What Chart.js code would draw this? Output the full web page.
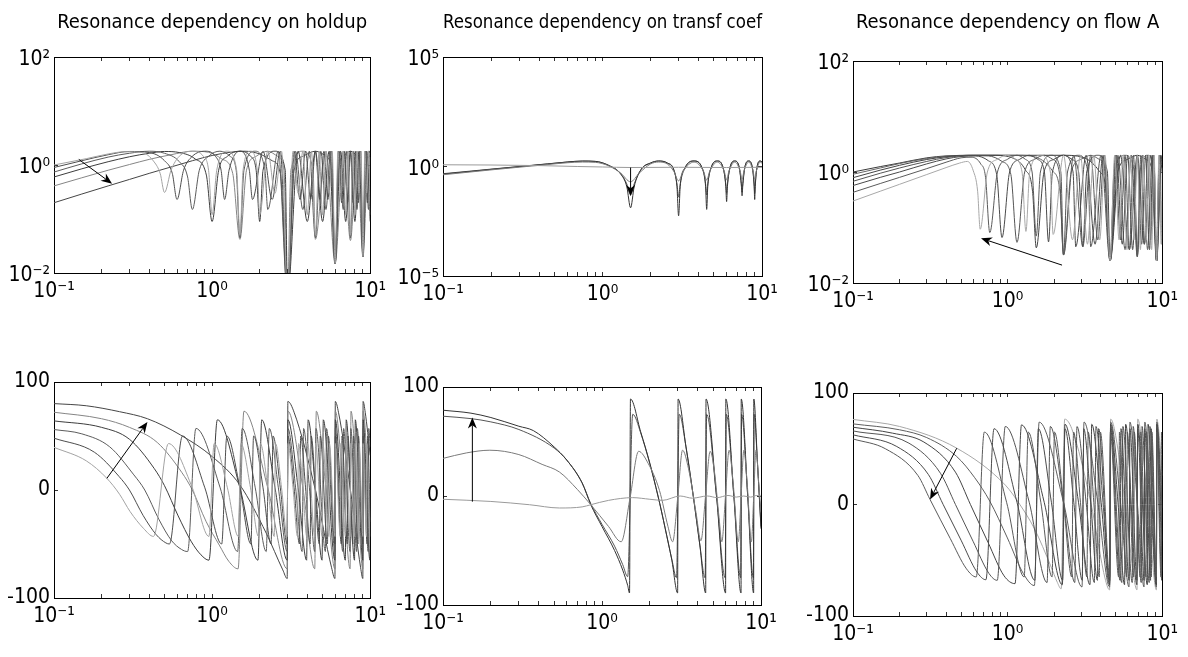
<!DOCTYPE html>
<html>
<head>
<meta charset="utf-8">
<script src="https://cdn.jsdelivr.net/npm/chart.js@4/dist/chart.umd.min.js"></script>
<style>
  html, body { margin: 0; padding: 0; background: #fff; }
  body { position: relative; width: 1188px; height: 657px; overflow: hidden; }
  .panel { position: absolute; }
</style>
</head>
<body>
<script>
// ---- tick values / labels ----
const xTickValues = [0.1, 0.2, 0.3, 0.4, 0.5, 0.6, 0.7, 0.8, 0.9, 1, 2, 3, 4, 5, 6, 7, 8, 9, 10];
const xLabelValues = [0.1, 1, 10];
const xLabelTexts = ['10\u207B\u00B9', '10\u2070', '10\u00B9'];
const magTickValues = [0.01, 1, 100];
const magTickLabels = ['10\u207B\u00B2', '10\u2070', '10\u00B2'];
const coefTickValues = [1e-5, 1, 1e5];
const coefTickLabels = ['10\u207B\u2075', '10\u2070', '10\u2075'];
const phaseTickValues = [-100, 0, 100];
const phaseTickLabels = ['\u2013100', '0', '100'];
const panelTitles = ['Resonance dependency on holdup', 'Resonance dependency on transf coef', 'Resonance dependency on flow A'];

// ---- holdup, magnitude (one curve per notch spacing) ----
const holdupMag05 = [[0.1,1.0],[0.16,1.31],[0.22,1.6],[0.28,1.76],[0.36,1.7],[0.43,1.14],[0.47,0.69],[0.5,0.31],
  [0.55,0.8],[0.62,1.45],[0.75,1.8],[0.88,1.45],[0.95,0.8],[1.0,0.12],[1.07,0.8],[1.25,1.8],[1.43,0.8],[1.5,0.05],
  [1.57,0.8],[1.75,1.8],[1.93,0.8],[2.0,0.12],[2.25,1.8],[2.5,0.3],[2.75,1.8],[3.0,0.004],[3.25,1.8],[3.5,0.3],
  [3.75,1.8],[4.0,0.12],[4.25,1.8],[4.5,0.05],[4.75,1.8],[5.0,0.12],[5.25,1.8],[5.5,0.3],[5.75,1.8],[6.0,0.015],
  [6.25,1.8],[6.5,0.3],[6.75,1.8],[7.0,0.12],[7.25,1.8],[7.5,0.05],[7.75,1.8],[8.0,0.12],[8.25,1.8],[8.5,0.3],
  [8.75,1.8],[9.0,0.02],[9.25,1.8],[9.5,0.3],[9.75,1.8],[10,0.12]];
const holdupMag06 = [[0.1,0.9],[0.15,1.2],[0.22,1.55],[0.3,1.78],[0.4,1.7],[0.5,1.2],[0.56,0.7],[0.6,0.23],
  [0.66,0.8],[0.75,1.45],[0.9,1.8],[1.05,1.45],[1.14,0.8],[1.2,0.23],[1.28,0.8],[1.5,1.8],[1.72,0.8],[1.8,0.23],
  [2.1,1.8],[2.4,0.23],[2.7,1.8],[3.0,0.004],[3.3,1.8],[3.6,0.23],[3.9,1.8],[4.2,0.23],[4.5,1.8],[4.8,0.23],
  [5.1,1.8],[5.4,0.23],[5.7,1.8],[6.0,0.015],[6.3,1.8],[6.6,0.2],[6.9,1.8],[7.2,0.2],[7.5,1.8],[7.8,0.2],
  [8.1,1.8],[8.4,0.2],[8.7,1.8],[9.0,0.02],[9.3,1.8],[9.6,0.2],[9.9,1.8],[10,1.75]];
const holdupMag075 = [[0.1,0.74],[0.15,1.05],[0.22,1.4],[0.3,1.65],[0.4,1.8],[0.5,1.65],[0.62,1.15],[0.7,0.6],[0.75,0.15],
  [0.83,0.8],[0.95,1.45],[1.12,1.8],[1.3,1.45],[1.42,0.8],[1.5,0.045],[1.59,0.8],[1.87,1.8],[2.16,0.8],[2.25,0.15],
  [2.62,1.8],[3.0,0.004],[3.37,1.8],[3.75,0.15],[4.12,1.8],[4.5,0.045],[4.87,1.8],[5.25,0.15],[5.62,1.8],[6.0,0.015],
  [6.37,1.8],[6.75,0.15],[7.12,1.8],[7.5,0.045],[7.87,1.8],[8.25,0.15],[8.62,1.8],[9.0,0.02],[9.37,1.8],[9.75,0.15],[10,1.4]];
const holdupMag10 = [[0.1,0.6],[0.15,0.85],[0.22,1.15],[0.3,1.42],[0.4,1.65],[0.5,1.78],[0.62,1.7],[0.78,1.3],[0.92,0.65],[1.0,0.09],
  [1.1,0.8],[1.25,1.45],[1.5,1.8],[1.75,1.45],[1.9,0.8],[2.0,0.09],[2.1,0.8],[2.5,1.8],[2.9,0.8],[3.0,0.004],
  [3.5,1.8],[4.0,0.09],[4.5,1.8],[5.0,0.09],[5.5,1.8],[6.0,0.015],[6.5,1.8],[7.0,0.09],[7.5,1.8],[8.0,0.09],
  [8.5,1.8],[9.0,0.02],[9.5,1.8],[10,0.09]];
const holdupMag15 = [[0.1,0.41],[0.15,0.58],[0.22,0.8],[0.3,1.02],[0.4,1.27],[0.55,1.55],[0.75,1.8],[0.95,1.72],[1.15,1.3],[1.35,0.7],[1.5,0.042],
  [1.65,0.8],[1.9,1.45],[2.25,1.8],[2.6,1.45],[2.85,0.8],[3.0,0.004],[3.15,0.8],[3.75,1.8],[4.35,0.8],[4.5,0.042],
  [5.25,1.8],[6.0,0.015],[6.75,1.8],[7.5,0.04],[8.25,1.8],[9.0,0.02],[9.75,1.8],[10,1.7]];
const holdupMag30 = [[0.1,0.2],[0.15,0.29],[0.22,0.41],[0.3,0.54],[0.4,0.7],[0.55,0.92],[0.75,1.2],[1.0,1.5],[1.3,1.72],[1.6,1.8],
  [2.0,1.6],[2.4,1.2],[2.7,0.7],[3.0,0.004],[3.3,0.8],[3.75,1.45],[4.5,1.8],[5.25,1.45],[5.7,0.8],[6.0,0.015],
  [6.3,0.8],[6.75,1.45],[7.5,1.8],[8.25,1.45],[8.7,0.8],[9.0,0.02],[9.3,0.8],[10,1.5]];

// ---- transfer coefficient, magnitude ----
const coefMagFlat = [[0.1,1.2],[0.2,1.17],[0.4,1.1],[0.7,1.0],[1.0,0.95],[1.5,0.9],[3,0.92],[6,0.9],[10,0.92]];
const coefMagHump = [[0.1,0.42],[0.2,0.7],[0.3,0.93],[0.45,1.22],[0.6,1.48],[0.75,1.6],[0.9,1.55],[1.1,1.05],[1.3,0.5],[1.5,0.2],
  [1.7,0.5],[2.0,1.3],[2.25,1.6],[2.55,1.3],[2.8,0.6],[3.0,0.22],[3.2,0.6],[3.75,1.6],[4.3,0.6],[4.5,0.24],[4.7,0.6],
  [5.25,1.6],[5.8,0.6],[6.0,0.25],[6.2,0.6],[6.75,1.6],[7.3,0.6],[7.5,0.26],[7.7,0.6],[8.25,1.6],[8.8,0.6],[9.0,0.26],
  [9.2,0.6],[9.75,1.6],[10,1.4]];
const coefMagDeepA = [[0.1,0.45],[0.15,0.6],[0.2,0.74],[0.3,0.98],[0.45,1.3],[0.6,1.6],[0.75,1.78],[0.9,1.72],[1.1,1.1],[1.3,0.45],
  [1.42,0.12],[1.5,0.013],[1.58,0.12],[1.75,0.75],[2.0,1.45],[2.25,1.8],[2.55,1.45],[2.8,0.7],[2.93,0.12],[3.0,0.0056],
  [3.07,0.12],[3.3,0.9],[3.75,1.8],[4.2,0.9],[4.43,0.12],[4.5,0.011],[4.57,0.12],[4.8,0.9],[5.25,1.8],[5.7,0.9],
  [5.93,0.12],[6.0,0.025],[6.07,0.12],[6.3,0.9],[6.75,1.8],[7.2,0.9],[7.43,0.12],[7.5,0.046],[7.57,0.12],[7.8,0.9],
  [8.25,1.8],[8.7,0.9],[8.93,0.12],[9.0,0.031],[9.07,0.12],[9.3,0.9],[9.75,1.8],[10,1.6]];
const coefMagDeepB = [[0.1,0.47],[0.15,0.62],[0.2,0.76],[0.3,1.0],[0.45,1.32],[0.6,1.6],[0.75,1.76],[0.9,1.7],[1.1,1.1],[1.3,0.48],
  [1.42,0.16],[1.5,0.05],[1.58,0.16],[1.75,0.75],[2.0,1.42],[2.25,1.76],[2.55,1.42],[2.8,0.7],[2.93,0.16],[3.0,0.04],
  [3.07,0.16],[3.3,0.9],[3.75,1.76],[4.2,0.9],[4.43,0.16],[4.5,0.05],[4.57,0.16],[4.8,0.9],[5.25,1.76],[5.7,0.9],
  [5.93,0.16],[6.0,0.06],[6.07,0.16],[6.3,0.9],[6.75,1.76],[7.2,0.9],[7.43,0.16],[7.5,0.07],[7.57,0.16],[7.8,0.9],
  [8.25,1.76],[8.7,0.9],[8.93,0.16],[9.0,0.06],[9.07,0.16],[9.3,0.9],[9.75,1.76],[10,1.58]];

// ---- flow A, magnitude ----
const flowMag1 = [[0.1,0.3],[0.15,0.45],[0.2,0.6],[0.3,0.9],[0.4,1.2],[0.49,1.45],[0.55,1.55],[0.6,1.05],[0.64,0.45],[0.665,0.093],
  [0.74,1.0],[0.86,1.7],[0.99,2.0],[1.12,1.7],[1.24,1.0],[1.314,0.085],[1.39,1.0],[1.64,2.0],[1.89,1.0],[1.971,0.075],
  [2.3,2.0],[2.629,0.06],[2.96,2.0],[3.286,0.05],[3.61,2.0],[3.943,0.06],[4.27,2.0],[4.6,0.025],[4.93,2.0],[5.257,0.06],
  [5.59,2.0],[5.914,0.04],[6.24,2.0],[6.571,0.06],[6.9,2.0],[7.229,0.04],[7.56,2.0],[7.886,0.06],[8.21,2.0],[8.543,0.04],
  [8.87,2.0],[9.2,0.025],[9.53,2.0],[9.857,0.05],[10,1.2]];
const flowMag2 = [[0.1,0.43],[0.15,0.62],[0.2,0.8],[0.3,1.15],[0.4,1.5],[0.5,1.8],[0.58,1.85],[0.67,1.4],[0.72,0.8],[0.767,0.081],
  [0.86,1.0],[1.0,1.7],[1.15,2.0],[1.3,1.7],[1.44,1.0],[1.533,0.07],[1.63,1.0],[1.92,2.0],[2.21,1.0],[2.3,0.032],
  [2.68,2.0],[3.067,0.045],[3.45,2.0],[3.833,0.06],[4.22,2.0],[4.6,0.025],[4.98,2.0],[5.367,0.06],[5.75,2.0],[6.133,0.04],
  [6.52,2.0],[6.9,0.03],[7.28,2.0],[7.667,0.05],[8.05,2.0],[8.433,0.06],[8.82,2.0],[9.2,0.025],[9.58,2.0],[9.967,0.05],[10,0.3]];
const flowMag3 = [[0.1,0.57],[0.15,0.8],[0.2,1.0],[0.3,1.4],[0.4,1.72],[0.5,1.9],[0.62,1.95],[0.75,1.6],[0.85,0.9],[0.92,0.066],
  [1.03,1.0],[1.2,1.7],[1.38,2.0],[1.56,1.7],[1.73,1.0],[1.84,0.055],[1.95,1.0],[2.3,2.0],[2.65,1.0],[2.76,0.045],
  [3.22,2.0],[3.68,0.05],[4.14,2.0],[4.6,0.025],[5.06,2.0],[5.52,0.05],[5.98,2.0],[6.44,0.04],[6.9,2.0],[7.36,0.05],
  [7.82,2.0],[8.28,0.04],[8.74,2.0],[9.2,0.025],[9.66,2.0],[10,1.0]];
const flowMag4 = [[0.1,0.68],[0.15,0.95],[0.2,1.18],[0.3,1.55],[0.4,1.82],[0.55,1.97],[0.75,1.95],[0.92,1.55],[1.05,0.9],[1.15,0.054],
  [1.29,1.0],[1.5,1.7],[1.725,2.0],[1.95,1.7],[2.16,1.0],[2.3,0.032],[2.44,1.0],[2.875,2.0],[3.31,1.0],[3.45,0.045],
  [4.025,2.0],[4.6,0.025],[5.175,2.0],[5.75,0.04],[6.325,2.0],[6.9,0.03],[7.475,2.0],[8.05,0.04],[8.625,2.0],[9.2,0.025],
  [9.775,2.0],[10,1.7]];
const flowMag5 = [[0.1,0.79],[0.15,1.08],[0.2,1.32],[0.3,1.68],[0.4,1.88],[0.55,2.0],[0.8,2.0],[1.1,1.75],[1.3,1.1],[1.45,0.45],[1.533,0.043],
  [1.72,1.0],[2.0,1.7],[2.3,2.0],[2.6,1.7],[2.88,1.0],[3.067,0.045],[3.25,1.0],[3.83,2.0],[4.42,1.0],[4.6,0.025],
  [5.367,2.0],[6.133,0.04],[6.9,2.0],[7.667,0.05],[8.43,2.0],[9.2,0.025],[9.967,2.0],[10,1.99]];
const flowMag6 = [[0.1,0.91],[0.15,1.18],[0.2,1.42],[0.3,1.75],[0.4,1.92],[0.6,2.0],[1.15,2.0],[1.6,1.75],[1.95,1.05],[2.18,0.45],[2.3,0.032],
  [2.58,1.0],[3.0,1.7],[3.45,2.0],[3.9,1.7],[4.32,1.0],[4.6,0.025],[4.88,1.0],[5.75,2.0],[6.62,1.0],[6.9,0.03],
  [7.18,1.0],[8.05,2.0],[8.92,1.0],[9.2,0.025],[9.48,1.0],[10,1.7]];
const flowMag7 = [[0.1,1.0],[0.15,1.25],[0.2,1.45],[0.3,1.8],[0.4,1.95],[0.6,2.0],[2.3,2.0],[3.2,1.75],[3.9,1.05],[4.35,0.45],[4.6,0.025],
  [5.15,1.0],[6.0,1.7],[6.9,2.0],[7.8,1.7],[8.65,1.0],[9.2,0.025],[9.75,1.0],[10,1.3]];

// ---- holdup, phase ----
const holdupPh05 = [[0.1,39.5],[0.16,27],[0.216,10.8],[0.26,-4],[0.303,-20],[0.368,-35.5],[0.426,-43],
  [0.53,43],[0.75,2],[0.955,-43],[1.03,43],[1.25,2],[1.465,-43],[1.52,43],[1.75,2],[1.965,-43],
  [2.02,43],[2.25,2],[2.47,-43],[2.52,43],[2.75,2],[2.985,-43],[3.015,43],[3.25,2],[3.47,-43],
  [3.52,43],[3.75,2],[3.97,-43],[4.02,43],[4.46,-43],[4.52,43],[4.97,-43],[5.02,43],[5.47,-43],
  [5.52,43],[5.985,-43],[6.015,43],[6.47,-43],[6.52,43],[6.97,-43],[7.02,43],[7.47,-43],[7.52,43],
  [7.97,-43],[8.02,43],[8.47,-43],[8.52,43],[8.985,-43],[9.015,43],[9.47,-43],[9.52,43],[9.97,-43],[10,0]];
const holdupPh06 = [[0.1,48],[0.18,35],[0.258,12.5],[0.3,0],[0.366,-23.5],[0.444,-41.5],[0.51,-49],[0.537,-50],
  [0.65,50],[0.9,2],[1.15,-50],[1.24,50],[1.5,2],[1.76,-50],[1.83,50],[2.1,2],[2.36,-50],
  [2.43,50],[2.7,2],[2.985,-50],[3.015,50],[3.3,2],[3.57,-50],[3.63,50],[3.9,2],[4.17,-50],
  [4.23,50],[4.77,-50],[4.83,50],[5.37,-50],[5.43,50],[5.985,-50],[6.015,50],[6.57,-50],[6.63,50],
  [7.17,-50],[7.23,50],[7.77,-50],[7.83,50],[8.37,-50],[8.43,50],[8.985,-50],[9.015,50],[9.57,-50],[9.63,50],[10,-30]];
const holdupPh075 = [[0.1,56],[0.15,52],[0.225,40],[0.32,14],[0.375,0],[0.46,-27],[0.555,-47],[0.64,-55],[0.7,-57],
  [0.79,57],[1.125,2],[1.45,-57],[1.55,57],[1.875,2],[2.2,-57],[2.3,57],[2.625,2],[2.985,-57],
  [3.015,57],[3.375,2],[3.71,-57],[3.79,57],[4.125,2],[4.46,-57],[4.54,57],[5.21,-57],[5.29,57],
  [5.985,-57],[6.015,57],[6.71,-57],[6.79,57],[7.46,-57],[7.54,57],[8.21,-57],[8.29,57],[8.985,-57],
  [9.015,57],[9.71,-57],[9.79,57],[10,40]];
const holdupPh10 = [[0.1,64],[0.2,58],[0.3,47],[0.43,20],[0.5,4],[0.61,-24],[0.74,-48],[0.85,-60],[0.955,-65],
  [1.08,65],[1.5,2],[1.95,-65],[2.06,65],[2.5,2],[2.985,-65],[3.015,65],[3.5,2],[3.96,-65],
  [4.05,65],[4.5,2],[4.96,-65],[5.05,65],[5.985,-65],[6.015,65],[6.96,-65],[7.05,65],[7.96,-65],
  [8.05,65],[8.985,-65],[9.015,65],[9.96,-65],[10,0]];
const holdupPh15 = [[0.1,72],[0.2,66],[0.3,58],[0.45,44],[0.645,16],[0.75,0],[0.915,-29],[1.11,-51],[1.275,-66],[1.46,-73],
  [1.59,73],[2.25,2],[2.985,-73],[3.015,73],[3.75,2],[4.46,-73],[4.56,73],[5.25,2],[5.985,-73],
  [6.015,73],[6.75,2],[7.46,-73],[7.56,73],[8.25,2],[8.985,-73],[9.015,73],[9.75,2],[10,-28]];
const holdupPh30 = [[0.1,80],[0.16,78],[0.26,72.5],[0.39,66],[0.63,51],[1.0,31],[1.5,4.6],[2.2,-40],[2.8,-74],[2.985,-82],
  [3.015,82],[3.3,72],[4.5,0],[5.7,-72],[5.985,-82],[6.015,82],[6.3,72],[7.5,0],[8.7,-72],[8.985,-82],
  [9.015,82],[9.3,72],[10,32]];

// ---- transfer coefficient, phase ----
const coefPhFlat = [[0.1,-3],[0.2,-5],[0.35,-8],[0.54,-11],[0.75,-10],[0.85,-8],[1.1,-4],[1.56,-1.5],[2.0,-3],[2.4,-4],
  [3.1,0],[3.7,-2],[4.6,0],[5.3,-1.5],[6.2,0.5],[7,-1],[7.8,0],[8.6,-1],[9.4,0.5],[10,0]];
const coefPhHump = [[0.1,34.5],[0.14,39.5],[0.197,42],[0.3,38],[0.42,29],[0.54,22],[0.7,6],[0.85,-8],[1.1,-28],[1.32,-42],
  [1.5,-2],[1.7,41],[1.95,30],[2.3,5],[2.6,-28],[2.78,-42],[3.0,0],[3.21,42],[3.5,25],[3.9,-15],[4.19,-41],[4.48,0],
  [4.79,41],[5.1,22],[5.45,-20],[5.67,-42],[5.98,0],[6.3,42],[6.7,10],[7.2,-42],[7.5,0],[7.8,42],[8.2,10],[8.7,-42],
  [9.0,0],[9.3,42],[9.7,10],[10,-15]];
const coefPhDeepA = [[0.1,78.7],[0.15,76],[0.2,72],[0.3,64],[0.37,60],[0.5,45],[0.6,33],[0.75,12],[0.85,-8],[1.0,-28],
  [1.2,-50],[1.35,-68],[1.45,-82],[1.49,-89],[1.51,89],[1.75,59],[2.0,30],[2.25,0],[2.5,-30],[2.75,-59],[2.99,-89],
  [3.01,89],[3.375,45],[3.75,0],[4.125,-45],[4.49,-89],[4.51,89],[5.25,0],[5.99,-89],[6.01,89],[6.75,0],[7.49,-89],
  [7.51,89],[8.25,0],[8.99,-89],[9.01,89],[9.5,31],[10,-30]];
const coefPhDeepB = [[0.1,73.2],[0.15,71],[0.2,68],[0.3,61],[0.5,44],[0.6,33],[0.75,12],[0.85,-7],[1.0,-26],[1.2,-46],
  [1.35,-63],[1.45,-74],[1.56,75],[1.75,58],[2.25,0],[2.75,-58],[2.94,-75],[3.06,75],[3.375,45],[3.75,0],[4.125,-45],
  [4.45,-75],[4.55,75],[5.25,0],[5.95,-75],[6.05,75],[6.75,0],[7.45,-75],[7.55,75],[8.25,0],[8.95,-75],[9.05,75],
  [9.5,30],[10,-28]];

// ---- flow A, phase ----
const flowPh1 = [[0.1,58.8],[0.162,50],[0.263,26],[0.315,4.5],[0.426,-30.6],[0.542,-57.7],[0.627,-65],
  [0.707,65],[0.985,2],[1.28,-65],[1.36,65],[1.64,2],[1.94,-65],[2.01,65],[2.3,2],[2.6,-65],
  [2.67,65],[2.96,2],[3.26,-65],[3.32,65],[3.61,2],[3.92,-65],[3.98,65],[4.58,-65],[4.62,65],
  [5.23,-65],[5.29,65],[5.89,-65],[5.95,65],[6.55,-65],[6.6,65],[7.2,-65],[7.26,65],[7.86,-65],
  [7.92,65],[8.52,-65],[8.57,65],[9.18,-65],[9.22,65],[9.83,-65],[9.89,65],[10,50]];
const flowPh2 = [[0.1,62.5],[0.192,52],[0.307,27],[0.383,0],[0.5,-32],[0.633,-60.5],[0.724,-67.5],
  [0.817,68],[1.15,2],[1.5,-68],[1.58,68],[1.92,2],[2.27,-68],[2.35,68],[2.68,2],[3.04,-68],
  [3.11,68],[3.45,2],[3.81,-68],[3.88,68],[4.58,-68],[4.63,68],[5.34,-68],[5.41,68],[6.11,-68],
  [6.18,68],[6.87,-68],[6.94,68],[7.64,-68],[7.71,68],[8.41,-68],[8.48,68],[9.18,-68],[9.22,68],[9.94,-68],[10,40]];
const flowPh3 = [[0.1,66],[0.23,55],[0.368,28],[0.46,0],[0.598,-33],[0.759,-62],[0.857,-68],
  [0.966,70],[1.38,2],[1.8,-70],[1.89,70],[2.3,2],[2.72,-70],[2.81,70],[3.22,2],[3.64,-70],
  [3.73,70],[4.14,2],[4.57,-70],[4.64,70],[5.48,-70],[5.57,70],[6.4,-70],[6.49,70],[7.32,-70],
  [7.41,70],[8.24,-70],[8.33,70],[9.17,-70],[9.23,70],[10,-60]];
const flowPh4 = [[0.1,69.3],[0.18,64],[0.2875,56],[0.46,29],[0.575,0],[0.7475,-34],[0.949,-64],[1.117,-71],
  [1.23,71.4],[1.725,2],[2.26,-72],[2.35,72],[2.875,2],[3.41,-72],[3.5,72],[4.025,2],[4.57,-72],
  [4.64,72],[5.175,2],[5.71,-72],[5.8,72],[6.86,-72],[6.95,72],[8.01,-72],[8.1,72],[9.17,-72],[9.23,72],[10,-33]];
const flowPh5 = [[0.1,72.3],[0.2,67],[0.3,60],[0.469,43],[0.613,24],[0.767,3],[0.997,-30],[1.265,-62],[1.49,-72.7],
  [1.6,73.9],[2.3,2],[3.03,-74],[3.12,74],[3.83,2],[4.57,-74],[4.64,74],[5.37,2],[6.1,-74],
  [6.18,74],[6.9,2],[7.63,-74],[7.71,74],[8.43,2],[9.17,-74],[9.23,74],[10,-3]];
const flowPh6 = [[0.1,76.3],[0.2,70],[0.469,50.5],[0.967,17.4],[1.2,0],[1.49,-21.6],[1.9,-55],[2.1,-70],[2.22,-75.7],
  [2.34,76.6],[2.6,68],[3.45,2],[4.3,-68],[4.57,-76.6],[4.64,76.6],[4.9,68],[5.75,2],[6.6,-68],[6.87,-76.6],
  [6.95,76.6],[7.2,68],[8.05,2],[8.9,-68],[9.17,-76.6],[9.23,76.6],[9.5,66],[10,26]];

// ---- annotation arrows (data coordinates: tail, head) ----
const holdupMagArrow = [[0.1435, 1.27], [0.233, 0.45]];
const coefMagArrow = [[1.5, 0.9], [1.5, 0.045]];
const flowMagArrow = [[2.25, 0.021], [0.673, 0.064]];
const holdupPhArrow = [[0.216, 10.8], [0.39, 63]];
const coefPhArrow = [[0.153, -5.2], [0.153, 72]];
const flowPhArrow = [[0.469, 50.5], [0.315, 4.5]];

// ---- styling ----
const TEXT_FONT = '"DejaVu Sans Condensed", "Liberation Sans Narrow", "Liberation Sans", sans-serif';
const holdupColors = ['#a3a3a3', '#4d4d4d', '#5c5c5c', '#3d3d3d', '#858585', '#454545'];
const coefColors = ['#9a9a9a', '#7a7a7a', '#333333', '#555555'];
const flowMagColors = ['#a8a8a8', '#5a5a5a', '#4a4a4a', '#555555', '#444444', '#666666', '#3a3a3a'];
const flowPhColors = ['#5a5a5a', '#4a4a4a', '#555555', '#444444', '#5f5f5f', '#a8a8a8'];

const panels = [
  { title: panelTitles[0], box: [0, 0, 396, 330], area: [54, 57, 372, 273], yType: 'logarithmic', yMin: 0.01, yMax: 100,
    yTicks: magTickValues, yLabels: magTickLabels, arrow: holdupMagArrow, colors: holdupColors,
    series: [holdupMag05, holdupMag06, holdupMag075, holdupMag10, holdupMag15, holdupMag30] },
  { title: panelTitles[1], box: [396, 0, 396, 330], area: [443, 57, 762, 276], yType: 'logarithmic', yMin: 1e-5, yMax: 1e5,
    yTicks: coefTickValues, yLabels: coefTickLabels, arrow: coefMagArrow, colors: coefColors,
    series: [coefMagFlat, coefMagHump, coefMagDeepA, coefMagDeepB] },
  { title: panelTitles[2], box: [792, 0, 396, 330], area: [853, 61, 1171, 283], yType: 'logarithmic', yMin: 0.01, yMax: 100,
    yTicks: magTickValues, yLabels: magTickLabels, arrow: flowMagArrow, colors: flowMagColors,
    series: [flowMag1, flowMag2, flowMag3, flowMag4, flowMag5, flowMag6, flowMag7] },
  { title: null, box: [0, 330, 396, 327], area: [54, 382, 372, 598], yType: 'linear', yMin: -100, yMax: 100,
    yTicks: phaseTickValues, yLabels: phaseTickLabels, arrow: holdupPhArrow, colors: holdupColors,
    series: [holdupPh05, holdupPh06, holdupPh075, holdupPh10, holdupPh15, holdupPh30] },
  { title: null, box: [396, 330, 396, 327], area: [443, 387, 761, 605], yType: 'linear', yMin: -100, yMax: 100,
    yTicks: phaseTickValues, yLabels: phaseTickLabels, arrow: coefPhArrow, colors: coefColors,
    series: [coefPhFlat, coefPhHump, coefPhDeepA, coefPhDeepB] },
  { title: null, box: [792, 330, 396, 327], area: [853, 393, 1172, 616], yType: 'linear', yMin: -100, yMax: 100,
    yTicks: phaseTickValues, yLabels: phaseTickLabels, arrow: flowPhArrow, colors: flowPhColors,
    series: [flowPh1, flowPh2, flowPh3, flowPh4, flowPh5, flowPh6] },
];

const Y_AXIS_W = 46;
const X_AXIS_H = 40;
const TITLE_SIZE = 20;
const TITLE_TOP = 11;

function labelFor(values, texts, v) {
  const i = values.findIndex((t) => t === v || Math.abs(v - t) <= Math.abs(t) * 1e-6);
  return i >= 0 ? texts[i] : '';
}

const arrowPlugin = {
  id: 'arrowMark',
  afterDatasetsDraw(chart, args, opts) {
    const a = opts && opts.points;
    if (!a) return;
    const xs = chart.scales.x, ys = chart.scales.y;
    const x1 = xs.getPixelForValue(a[0][0]), y1 = ys.getPixelForValue(a[0][1]);
    const x2 = xs.getPixelForValue(a[1][0]), y2 = ys.getPixelForValue(a[1][1]);
    const ang = Math.atan2(y2 - y1, x2 - x1);
    const c = Math.cos(ang), s = Math.sin(ang);
    const hl = 11, hw = 4.5;
    const ctx = chart.ctx;
    ctx.save();
    ctx.strokeStyle = '#000';
    ctx.fillStyle = '#000';
    ctx.lineWidth = 1;
    ctx.beginPath();
    ctx.moveTo(x1, y1);
    ctx.lineTo(x2 - c * hl * 0.7, y2 - s * hl * 0.7);
    ctx.stroke();
    ctx.beginPath();
    ctx.moveTo(x2, y2);
    ctx.lineTo(x2 - hl * c + hw * s, y2 - hl * s - hw * c);
    ctx.lineTo(x2 - 0.7 * hl * c, y2 - 0.7 * hl * s);
    ctx.lineTo(x2 - hl * c - hw * s, y2 - hl * s + hw * c);
    ctx.closePath();
    ctx.fill();
    ctx.restore();
  },
};
Chart.register(arrowPlugin);

const grid = { display: true, drawOnChartArea: false, drawTicks: true, tickLength: -4, color: '#000', lineWidth: 0.8 };
const border = { display: true, color: '#000', width: 1 };
const tickFont = { family: TEXT_FONT, size: 21 };

panels.forEach((p) => {
  const [bx, by, bw, bh] = p.box;
  const [L, T, R, B] = p.area;
  const wrap = document.createElement('div');
  wrap.className = 'panel';
  wrap.style.left = bx + 'px';
  wrap.style.top = by + 'px';
  wrap.style.width = bw + 'px';
  wrap.style.height = bh + 'px';
  const cv = document.createElement('canvas');
  wrap.appendChild(cv);
  document.body.appendChild(wrap);

  const titleLine = TITLE_SIZE * 1.2;
  const titlePadBottom = T - by - TITLE_TOP - titleLine;

  const xScale = (pos, showLabels) => ({
    type: 'logarithmic', position: pos, min: 0.1, max: 10,
    afterBuildTicks: (s) => { s.ticks = xTickValues.map((v) => ({ value: v })); },
    afterFit: (s) => { s.height = showLabels ? X_AXIS_H : 0; },
    ticks: { display: showLabels, autoSkip: false, maxRotation: 0, padding: 10, font: tickFont, color: '#000',
      callback: (v) => labelFor(xLabelValues, xLabelTexts, v) },
    grid, border,
  });
  const yScale = (pos, showLabels) => ({
    type: p.yType, position: pos, min: p.yMin, max: p.yMax,
    afterBuildTicks: (s) => { s.ticks = p.yTicks.map((v) => ({ value: v })); },
    afterFit: (s) => { s.width = showLabels ? Y_AXIS_W : 0; },
    ticks: { display: showLabels, autoSkip: false, padding: 8, font: tickFont, color: '#000',
      labelOffset: p.yType === 'logarithmic' ? 3 : 0,
      callback: (v) => labelFor(p.yTicks, p.yLabels, v) },
    grid, border,
  });

  new Chart(cv, {
    type: 'line',
    data: {
      datasets: p.series.map((pts, i) => ({
        data: pts.map(([x, y]) => ({ x, y })),
        borderColor: p.colors[i % p.colors.length],
        borderWidth: 1,
        pointRadius: 0,
        fill: false,
        cubicInterpolationMode: 'monotone',
        xAxisID: 'x',
        yAxisID: 'y',
      })),
    },
    options: {
      responsive: true,
      maintainAspectRatio: false,
      animation: false,
      events: [],
      layout: {
        padding: {
          left: L - bx - Y_AXIS_W,
          right: bx + bw - R,
          top: p.title ? 0 : T - by,
          bottom: by + bh - B - X_AXIS_H,
        },
      },
      plugins: {
        legend: { display: false },
        tooltip: { enabled: false },
        title: p.title ? {
          display: true, text: p.title, fullSize: false, color: '#000',
          font: { family: TEXT_FONT, size: TITLE_SIZE, weight: 'normal' },
          padding: { top: TITLE_TOP, bottom: titlePadBottom },
        } : { display: false },
        arrowMark: { points: p.arrow },
      },
      scales: {
        x: xScale('bottom', true),
        x2: xScale('top', false),
        y: yScale('left', true),
        y2: yScale('right', false),
      },
    },
  });
});
</script>
</body>
</html>
